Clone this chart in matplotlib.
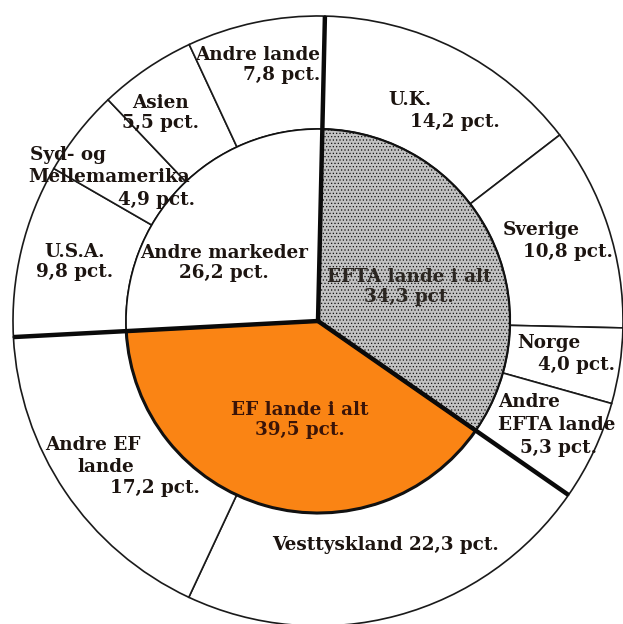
import numpy as np
import matplotlib.pyplot as plt

# inner ring: main market groups (pct.)
groups = ['EFTA lande i alt', 'EF lande i alt', 'Andre markeder']
group_values = [34.3, 39.5, 26.2]
group_colors = ['#c2c2c2', '#fa8414', 'white']

# outer ring: countries per group (pct.)
countries = ['U.K.', 'Sverige', 'Norge', 'Andre EFTA lande',
             'Vesttyskland', 'Andre EF lande',
             'U.S.A.', 'Syd- og Mellemamerika', 'Asien', 'Andre lande']
country_values = [14.2, 10.8, 4.0, 5.3, 22.3, 17.2, 9.8, 4.9, 5.5, 7.8]
country_group = [0, 0, 0, 0, 1, 1, 2, 2, 2, 2]

W, H = 623, 624
CX, CY = 318, 321
R_OUT, R_IN = 305, 192
START = 88.7

# outer wedges scaled so each group fills its inner sector
country_values = np.array(country_values)
country_group = np.array(country_group)
outer_sizes = country_values.copy()
for g, gv in enumerate(group_values):
    m = country_group == g
    outer_sizes[m] = country_values[m] / country_values[m].sum() * gv

plt.rcParams['hatch.color'] = '#a6a6a6'
plt.rcParams['hatch.linewidth'] = 0.5
fig = plt.figure(figsize=(W / 100, H / 100), dpi=100)
ax = fig.add_axes([0, 0, 1, 1])

ax.pie(outer_sizes, radius=R_OUT, startangle=START, counterclock=False,
       colors=['white'] * len(outer_sizes),
       wedgeprops=dict(width=R_OUT - R_IN, edgecolor='#1a1a1a', linewidth=1.2))

wedges, _ = ax.pie(group_values, radius=R_IN, startangle=START, counterclock=False,
                   colors=group_colors,
                   wedgeprops=dict(edgecolor='#111111', linewidth=1.2))
wedges[0].set_hatch('.....')
wedges[1].set_linewidth(2.2)
wedges[0].set_linewidth(1.6)

# thick dividing lines between the groups
bounds = START - 3.6 * np.cumsum([0] + group_values[:-1])
for a in np.radians(bounds):
    ax.plot([0, R_OUT * np.cos(a)], [0, R_OUT * np.sin(a)],
            color='#0a0a0a', lw=3.2, solid_capstyle='butt', zorder=5)

ax.set_xlim(-CX, W - CX)
ax.set_ylim(CY - H, CY)
ax.set_aspect('equal')
ax.axis('off')


def put(px, py, s, ha='left', color='#1c1410', size=13.2):
    ax.text(px - CX, CY - py, s, ha=ha, va='center', fontsize=size,
            fontweight='bold', family='DejaVu Serif', color=color,
            linespacing=1.1, zorder=6)


put(320, 65, 'Andre lande\n7,8 pct.', ha='right')
put(160, 113, 'Asien\n5,5 pct.', ha='center')
put(30, 155, 'Syd- og')
put(28, 177, 'Mellemamerika')
put(118, 200, '4,9 pct.')
put(75, 262, 'U.S.A.\n9,8 pct.', ha='center')
put(224, 263, 'Andre markeder\n26,2 pct.', ha='center')
put(388, 100, 'U.K.')
put(410, 122, '14,2 pct.')
put(503, 230, 'Sverige')
put(523, 252, '10,8 pct.')
put(409, 287, 'EFTA lande i alt\n34,3 pct.', ha='center', color='#2a2520')
put(517, 343, 'Norge')
put(538, 365, '4,0 pct.')
put(498, 402, 'Andre')
put(498, 425, 'EFTA lande')
put(520, 448, '5,3 pct.')
put(300, 420, 'EF lande i alt\n39,5 pct.', ha='center', color='#3a1408')
put(45, 445, 'Andre EF')
put(77, 467, 'lande')
put(110, 488, '17,2 pct.')
put(272, 545, 'Vesttyskland 22,3 pct.')

fig.savefig('out.png', dpi=100)
